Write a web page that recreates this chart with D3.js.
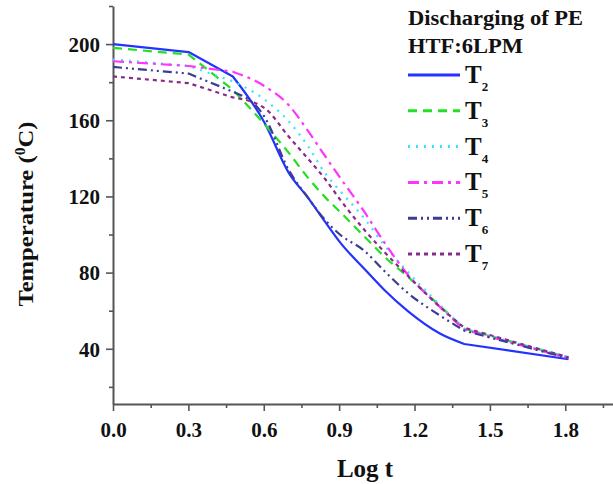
<!DOCTYPE html>
<html>
<head>
<meta charset="utf-8">
<script src="https://cdn.jsdelivr.net/npm/d3@7"></script>
<style>
  html, body { margin: 0; padding: 0; background: #fff; }
  svg { display: block; }
  text { font-family: "Liberation Serif", "Times New Roman", serif; font-weight: bold; fill: #111; }
</style>
</head>
<body>
<svg id="chart" width="613" height="484"></svg>
<script>
// ---- data ----
const logT = [0, 0.301, 0.477, 0.602, 0.699, 0.778, 0.845, 0.903, 1.0, 1.079, 1.176, 1.301, 1.398, 1.813];
const T2 = [200, 195.8, 183, 159, 132.5, 119, 106.5, 96, 82, 71, 59.5, 48, 42.5, 34.5];
const T3 = [198, 194.5, 176, 158, 143, 129.5, 119.5, 112, 99, 88.5, 77.5, 62.5, 50.5, 35.5];
const T4 = [192, 188.5, 180.5, 171, 159.5, 146, 132, 123, 108.5, 94.5, 80, 63, 50.5, 35.5];
const T5 = [191, 188.5, 185.5, 178, 168, 154, 141, 130, 112, 96, 78.5, 62, 50, 35];
const T6 = [188, 184.5, 175, 162, 134, 119, 107.5, 100, 91.5, 81, 69, 57.5, 49.5, 35];
const T7 = [183, 179.5, 172, 166.5, 151.5, 139.5, 129, 118.5, 102.5, 91, 78, 62, 51, 35.5];

const seriesNames = ["2", "3", "4", "5", "6", "7"];
const seriesValues = [T2, T3, T4, T5, T6, T7];
const seriesColors = ["#2233ff", "#22e022", "#33e6ff", "#ff33ff", "#3c3c94", "#8a2a8a"];
const seriesDash = [null, "9,6", "2,6", "11,5,3,5", "9,4,2,4,2,4", "4,4"];

const xMajor = [0, 0.3, 0.6, 0.9, 1.2, 1.5, 1.8];
const xMinor = [0.15, 0.45, 0.75, 1.05, 1.35, 1.65, 1.95];
const yMajor = [40, 80, 120, 160, 200];
const yMinor = [20, 60, 100, 140, 180, 220];

const legendTitle1 = "Discharging of PE";
const legendTitle2 = "HTF:6LPM";
const xTitle = "Log t";

// ---- layout ----
const svg = d3.select("#chart");
const x = d3.scaleLinear().domain([0, 1.99]).range([113, 613]);
const y = d3.scaleLinear().domain([11, 220]).range([404, 6]);

const axisColor = "#555";

// minor ticks
const gxMinor = svg.append("g").attr("transform", "translate(0,404)")
  .call(d3.axisBottom(x).tickValues(xMinor).tickSize(4).tickSizeOuter(0).tickFormat(""));
const gyMinor = svg.append("g").attr("transform", "translate(113,0)")
  .call(d3.axisLeft(y).tickValues(yMinor).tickSize(4).tickSizeOuter(0).tickFormat(""));
[gxMinor, gyMinor].forEach(g => {
  g.selectAll("path").remove();
  g.selectAll("line").attr("stroke", axisColor).attr("stroke-width", 1.6);
});

// major axes
const gx = svg.append("g").attr("transform", "translate(0,404)")
  .call(d3.axisBottom(x).tickValues(xMajor).tickSize(7).tickSizeOuter(0).tickFormat(d3.format(".1f")));
const gy = svg.append("g").attr("transform", "translate(113,0)")
  .call(d3.axisLeft(y).tickValues(yMajor).tickSize(7).tickSizeOuter(0).tickFormat(d3.format("d")));

[gx, gy].forEach(g => {
  g.select("path.domain").attr("stroke", axisColor).attr("stroke-width", 2);
  g.selectAll(".tick line").attr("stroke", axisColor).attr("stroke-width", 1.6);
  g.selectAll(".tick text")
    .attr("font-family", "Liberation Serif, Times New Roman, serif")
    .attr("font-weight", "bold")
    .attr("font-size", 21)
    .attr("fill", "#1a1a1a");
});
gx.selectAll(".tick text").attr("y", 33).attr("dy", 0);
gy.selectAll(".tick text").attr("x", -13).attr("dy", "0.35em");

// axis titles
svg.append("text")
  .attr("x", 365).attr("y", 477)
  .attr("text-anchor", "middle")
  .attr("font-size", 25)
  .text(xTitle);

const yt = svg.append("text")
  .attr("transform", "translate(33,214) rotate(-90) scale(1.12,1)")
  .attr("text-anchor", "middle")
  .attr("font-size", 22);
yt.append("tspan").text("Temperature (");
yt.append("tspan").attr("font-size", 14).attr("dy", -8).text("0");
yt.append("tspan").attr("dy", 8).text("C)");

// series lines: straight segments at the ends, smooth through the middle
const lin = d3.line().x(d => x(d[0])).y(d => y(d[1]));
const mono = d3.line().x(d => x(d[0])).y(d => y(d[1])).curve(d3.curveMonotoneX);

seriesValues.forEach((vals, k) => {
  const pts = vals.map((v, i) => [logT[i], v]);
  const d = lin(pts.slice(0, 3)) +
            mono(pts.slice(2, 13)).replace(/^M/, "L") +
            lin(pts.slice(12)).replace(/^M/, "L");
  svg.append("path")
    .attr("fill", "none")
    .attr("stroke", seriesColors[k])
    .attr("stroke-width", 2.2)
    .attr("stroke-dasharray", seriesDash[k])
    .attr("stroke-linejoin", "round")
    .attr("d", d);
});

// legend
svg.append("text").attr("x", 408).attr("y", 25).attr("font-size", 20)
  .attr("textLength", 175).attr("lengthAdjust", "spacingAndGlyphs").text(legendTitle1);
svg.append("text").attr("x", 408).attr("y", 53).attr("font-size", 20)
  .attr("textLength", 115).attr("lengthAdjust", "spacingAndGlyphs").text(legendTitle2);

const rowY = d3.scalePoint().domain(seriesNames).range([75, 254]);
seriesNames.forEach((n, k) => {
  const yy = rowY(n);
  svg.append("line")
    .attr("x1", 408).attr("x2", 460)
    .attr("y1", yy).attr("y2", yy)
    .attr("stroke", seriesColors[k])
    .attr("stroke-width", 3)
    .attr("stroke-dasharray", seriesDash[k]);
  const t = svg.append("text").attr("x", 465).attr("y", yy + 8).attr("font-size", 25);
  t.append("tspan").text("T");
  t.append("tspan").attr("font-size", 13).attr("dy", 8).text(n);
});
</script>
</body>
</html>
